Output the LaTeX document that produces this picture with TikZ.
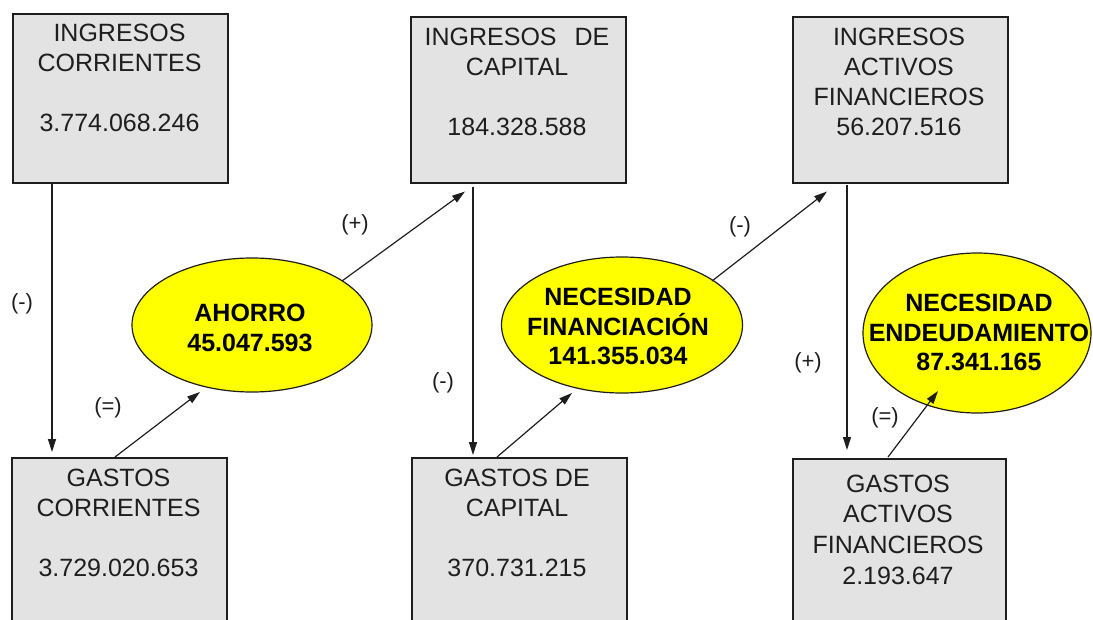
\documentclass[tikz,border=0pt]{standalone}
\usepackage{fontspec}
\setmainfont{Liberation Sans}
\usetikzlibrary{arrows.meta,shapes.geometric,calc}
\definecolor{boxfill}{HTML}{E3E3E3}
\definecolor{ellfill}{HTML}{FFFF00}
\definecolor{ink}{HTML}{1E1E1E}
\begin{document}
\begin{tikzpicture}[x=1pt,y=-1pt,
  boxnode/.style={rectangle, draw=ink, line width=1.5pt, fill=boxfill, inner sep=0pt, anchor=north west, minimum width=215pt},
  boxtext/.style={anchor=north, inner sep=0pt, align=center, text=ink, font=\fontsize{25}{30}\selectfont},
  ellnode/.style={ellipse, draw=ink, line width=1.2pt, fill=ellfill, inner sep=0pt},
  elltext/.style={inner sep=0pt, align=center, text=black, font=\bfseries\fontsize{25}{29.5}\selectfont},
  sign/.style={inner sep=0pt, text=ink, font=\fontsize{22}{26}\selectfont},
  arr/.style={draw=ink, line width=1.2pt, -{Triangle[length=13pt,width=8pt]}}
]
\useasboundingbox (0,0) rectangle (1093,619);
\clip (0,0) rectangle (1093,619);

% boxes
\node[boxnode, minimum height=169pt] (ic) at (12,13) {};
\node[boxnode, minimum height=166pt] (icap) at (410,16) {};
\node[boxnode, minimum height=166pt] (iaf) at (792,16) {};
\node[boxnode, minimum height=200pt] (gc) at (11,457) {};
\node[boxnode, minimum height=200pt] (gcap) at (411,457) {};
\node[boxnode, minimum height=200pt, minimum width=213pt] (gaf) at (792,458) {};

% box texts
\node[boxtext] (tic) at (119.5,23.5) {INGRESOS\\CORRIENTES\\[30pt]3.774.068.246};
\node[boxtext] (ticap) at (517,27.5) {INGRESOS\hspace{18pt}DE\\CAPITAL\\[30pt]184.328.588};
\node[boxtext] (tiaf) at (899,27.5) {INGRESOS\\ACTIVOS\\FINANCIEROS\\56.207.516};
\node[boxtext] (tgc) at (118.5,468.5) {GASTOS\\CORRIENTES\\[30pt]3.729.020.653};
\node[boxtext] (tgcap) at (517,468.5) {GASTOS DE\\CAPITAL\\[30pt]370.731.215};
\node[boxtext, font=\fontsize{25}{30.7}\selectfont] (tgaf) at (898,474.5) {GASTOS\\ACTIVOS\\FINANCIEROS\\2.193.647};

% ellipses
\node[ellnode, minimum width=240pt, minimum height=134pt] (ah) at (252,325) {};
\node[ellnode, minimum width=241pt, minimum height=136pt] (nf) at (622,325) {};
\node[ellnode, minimum width=228pt, minimum height=160pt] (ne) at (977,333) {};

\node[elltext] (tah) at (250,328) {AHORRO\\45.047.593};
\node[elltext] (tnf) at (618,326.5) {NECESIDAD\\FINANCIACIÓN\\141.355.034};
\node[elltext] (tne) at (979,332.5) {NECESIDAD\\ENDEUDAMIENTO\\87.341.165};

% connectors
\draw[arr] ($(ic.south west)+(40,0)$) -- ($(gc.north west)+(41,-5)$);
\draw[arr] ($(icap.south west)+(63,3)$) -- ($(gcap.north west)+(62,-2)$);
\draw[arr] ($(iaf.south west)+(55,1)$) -- ($(gaf.north west)+(55,-8)$);
\draw[arr] ($(gc.north west)+(104,0)$) -- ($(ah.center)+(-52,67)$);
\draw[arr] ($(ah.center)+(90,-44)$) -- ($(icap.south west)+(55,8)$);
\draw[arr] ($(gcap.north west)+(86,0)$) -- ($(nf.center)+(-50,68)$);
\draw[arr] ($(nf.center)+(90,-44)$) -- ($(iaf.south west)+(35,8)$);
\draw[arr] ($(gaf.north west)+(96,-1)$) -- ($(ne.center)+(-39,58)$);

% signs
\node[sign] (s1) at (22,304) {(-)};
\node[sign] (s2) at (355,225) {(+)};
\node[sign] (s3) at (108,408) {(=)};
\node[sign] (s4) at (443,383) {(-)};
\node[sign] (s5) at (740,227) {(-)};
\node[sign] (s6) at (808,363) {(+)};
\node[sign] (s7) at (885,418) {(=)};
\end{tikzpicture}
\end{document}
